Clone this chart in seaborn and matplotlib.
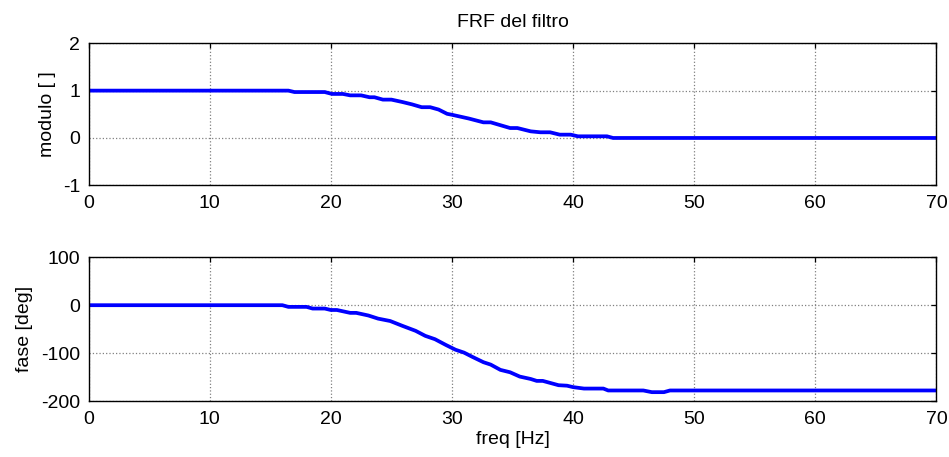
import numpy as np
import pandas as pd
import matplotlib
matplotlib.use("Agg")
import matplotlib.pyplot as plt
import seaborn as sns

# ---- data ----
freq_mod = [0, 16.5, 17, 19.5, 20.1, 21, 21.6, 22.5, 23.2, 23.6, 24.3, 25, 25.9, 26.7,
            27.5, 28.2, 28.9, 29.6, 30, 31.4, 32.6, 33.2, 34.8, 35.4, 36.5, 37.3, 38.1,
            38.9, 39.8, 40.4, 42.8, 43.3, 70]
modulo = [1.0, 1.0, 0.97, 0.97, 0.93, 0.93, 0.90, 0.90, 0.86, 0.86, 0.81, 0.81, 0.76, 0.71,
          0.65, 0.65, 0.60, 0.51, 0.49, 0.41, 0.33, 0.33, 0.21, 0.21, 0.14, 0.12, 0.12,
          0.07, 0.07, 0.035, 0.035, 0.0, 0.0]

freq_fase = [0, 16, 16.5, 18, 18.5, 19.5, 20, 20.5, 21.6, 22.1, 23.1, 23.9, 24.9, 25.9, 27,
             27.8, 28.6, 29.5, 30.3, 31, 31.7, 32.6, 33.2, 34, 34.8, 35.6, 36.5, 37, 37.5,
             38.8, 39.5, 40, 40.9, 42.5, 42.9, 45.8, 46.5, 47.5, 48, 70]
fase = [0, 0, -3.5, -3.5, -7, -7, -10, -10, -16, -16, -21.5, -28, -33, -43, -53.5,
        -64, -71, -83, -93, -99, -108, -119, -124, -135, -140, -149, -154, -158, -158,
        -167, -168, -171, -174, -174, -178, -178, -181.5, -181.5, -178, -178]

x_ticks = [0, 10, 20, 30, 40, 50, 60, 70]
mod_ticks = [-1, 0, 1, 2]
fase_ticks = [-200, -100, 0, 100]

sns.set_theme(style="white")
plt.rcParams['font.family'] = ['Liberation Sans', 'DejaVu Sans']
plt.rcParams['axes.unicode_minus'] = False
plt.rcParams['text.color'] = 'black'
plt.rcParams['axes.labelcolor'] = 'black'
plt.rcParams['xtick.color'] = 'black'
plt.rcParams['ytick.color'] = 'black'
FS = 14

fig = plt.figure(figsize=(9.49, 4.57), dpi=100)
ax1 = fig.add_axes([0.0933, 0.5945, 0.8935, 0.3108])
ax2 = fig.add_axes([0.0933, 0.1225, 0.8935, 0.3145])

df1 = pd.DataFrame({"freq": freq_mod, "modulo": modulo})
df2 = pd.DataFrame({"freq": freq_fase, "fase": fase})

sns.lineplot(data=df1, x="freq", y="modulo", ax=ax1, color=(0, 0, 1), lw=2.7,
             sort=False, estimator=None)
sns.lineplot(data=df2, x="freq", y="fase", ax=ax2, color=(0, 0, 1), lw=2.7,
             sort=False, estimator=None)

for ax, yt in ((ax1, mod_ticks), (ax2, fase_ticks)):
    ax.set_xlim(0, 70)
    ax.set_ylim(yt[0], yt[-1])
    ax.set_xticks(x_ticks)
    ax.set_yticks(yt)
    ax.grid(True, linestyle=':', color='0.5', lw=0.9)
    ax.tick_params(direction='in', length=3.5, width=0.9, color='black',
                   labelcolor='black', top=True, right=True, labelsize=FS, pad=6)
    ax.tick_params(axis='x', pad=7)
    for s in ax.spines.values():
        s.set_visible(True)
        s.set_color('black')
        s.set_linewidth(1.0)
    ax.set_facecolor('white')

ax1.set_xlabel("")
ax1.set_ylabel("modulo [ ]", fontsize=FS, labelpad=5, color='black')
ax1.set_title("FRF del filtro", fontsize=FS, pad=12, color='black')
ax2.set_xlabel("freq [Hz]", fontsize=FS, labelpad=2, color='black')
ax2.set_ylabel("fase [deg]", fontsize=FS, labelpad=6, color='black')

fig.savefig("out.png", dpi=100, facecolor='white')
